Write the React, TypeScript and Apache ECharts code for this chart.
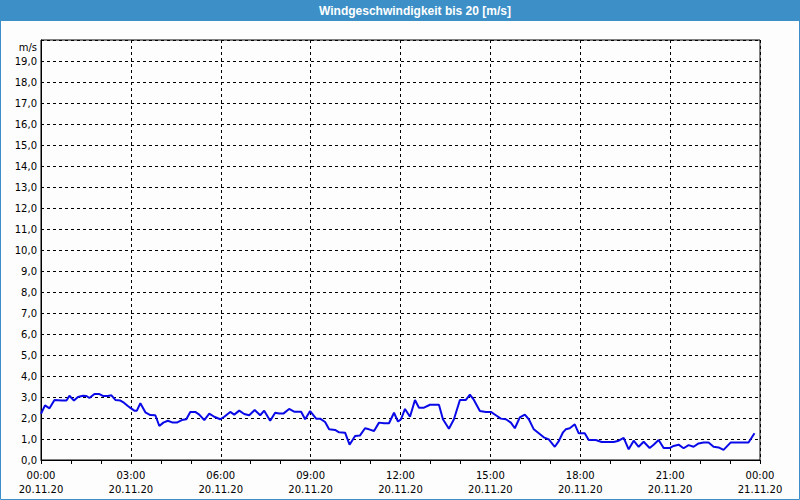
import React, { useEffect, useRef } from "react";
import * as echarts from "echarts";

const TITLE = "Windgeschwindigkeit bis 20 [m/s]";
const Y_UNIT = "m/s";
const DATES = ["20.11.20", "21.11.20"];

// minutes after 00:00 on 20.11.20
const minutes = [
  0, 8, 17, 27, 42, 51, 57, 66, 74, 84, 91, 97, 107, 117, 124, 134, 141, 149, 159, 166,
  174, 179, 187, 192, 199, 209, 219, 229, 237, 245, 254, 264, 272, 282, 291, 299, 309, 317, 327, 337,
  347, 359, 367, 379, 387, 397, 407, 417, 428, 439, 447, 459, 469, 477, 486, 497, 507, 521, 529, 539,
  551, 559, 569, 577, 589, 597, 609, 618, 629, 639, 649, 657, 667, 677, 687, 697, 707, 715, 721, 729,
  739, 749, 757, 767, 779, 797, 805, 817, 827, 839, 851, 859, 867, 879, 891, 901, 911, 921, 931, 941,
  949, 959, 969, 977, 987, 997, 1007, 1017, 1029, 1037, 1045, 1051, 1059, 1069, 1077, 1089, 1097, 1111, 1123, 1147,
  1157, 1167, 1177, 1187, 1197, 1207, 1219, 1227, 1237, 1247, 1259, 1267, 1277, 1287, 1297, 1307, 1317, 1327, 1337, 1347,
  1357, 1367, 1381, 1394, 1417, 1429,
];

const speeds = [
  2.2, 2.6, 2.46, 2.86, 2.83, 2.83, 3.06, 2.83, 3.0, 3.06, 3.05, 2.95, 3.14, 3.14, 3.05, 3.05, 3.08, 2.86, 2.83, 2.73,
  2.57, 2.48, 2.35, 2.35, 2.7, 2.27, 2.14, 2.13, 1.62, 1.78, 1.87, 1.78, 1.78, 1.9, 1.94, 2.29, 2.29, 2.16, 1.9, 2.21,
  2.06, 1.94, 2.06, 2.29, 2.16, 2.35, 2.19, 2.13, 2.38, 2.13, 2.35, 1.87, 2.25, 2.21, 2.22, 2.43, 2.3, 2.3, 1.94, 2.33,
  1.97, 1.97, 1.81, 1.46, 1.43, 1.32, 1.3, 0.73, 1.14, 1.17, 1.51, 1.46, 1.38, 1.78, 1.75, 1.75, 2.25, 1.83, 1.94, 2.43,
  2.06, 2.86, 2.49, 2.49, 2.63, 2.63, 1.94, 1.49, 1.94, 2.86, 2.86, 3.11, 2.86, 2.33, 2.29, 2.29, 2.13, 1.97, 1.94, 1.78,
  1.51, 2.03, 2.16, 1.94, 1.46, 1.27, 1.08, 0.98, 0.63, 0.9, 1.3, 1.46, 1.51, 1.7, 1.27, 1.27, 0.95, 0.95, 0.86, 0.86,
  0.92, 1.05, 0.51, 0.92, 0.63, 0.87, 0.57, 0.73, 0.95, 0.57, 0.57, 0.67, 0.73, 0.56, 0.71, 0.63, 0.79, 0.83, 0.83, 0.63,
  0.6, 0.48, 0.83, 0.83, 0.83, 1.27,
];

const Y_MIN = 0;
const Y_MAX = 20;
const Y_STEP = 1;
const X_MIN = 0;
const X_MAX = 1440;
const X_STEP = 180;

const pad = (n: number) => (n < 10 ? "0" + n : "" + n);

export default function App() {
  const ref = useRef<HTMLDivElement>(null);
  useEffect(() => {
    document.body.style.margin = "0";
    const chart = echarts.init(ref.current!, null, { renderer: "svg" });
    const labelFont = { fontFamily: "DejaVu Sans", fontSize: 10, color: "#000" };
    chart.setOption({
      animation: false,
      backgroundColor: "#fcfdfc",
      grid: {
        left: 41,
        right: 40,
        top: 40,
        bottom: 40,
        show: true,
        borderColor: "#000",
        borderWidth: 1,
        backgroundColor: "#fcfdfc",
      },
      xAxis: {
        type: "value",
        min: X_MIN,
        max: X_MAX,
        interval: X_STEP,
        axisLine: { show: true, lineStyle: { color: "#000", width: 1 } },
        axisTick: { show: true, length: 4, lineStyle: { color: "#000" } },
        minorTick: { show: true, splitNumber: 3, length: 4, lineStyle: { color: "#000" } },
        splitLine: { show: true, lineStyle: { color: "#000", type: [3, 3], width: 1 } },
        axisLabel: {
          ...labelFont,
          margin: 8,
          lineHeight: 14,
          showMinLabel: true,
          showMaxLabel: true,
          formatter: (v: number) => {
            const day = Math.floor(v / 1440);
            const m = v % 1440;
            return pad(Math.floor(m / 60)) + ":" + pad(m % 60) + "\n" + DATES[day];
          },
        },
      },
      yAxis: {
        type: "value",
        min: Y_MIN,
        max: Y_MAX,
        interval: Y_STEP,
        axisLine: { show: true, lineStyle: { color: "#000", width: 1 } },
        axisTick: { show: false },
        splitLine: { show: true, lineStyle: { color: "#000", type: [3, 3], width: 1 } },
        axisLabel: {
          ...labelFont,
          margin: 4,
          formatter: (v: number) => (v >= Y_MAX ? "" : v.toFixed(1).replace(".", ",")),
        },
      },
      series: [
        {
          type: "line",
          data: minutes.map((m, i) => [m, speeds[i]]),
          showSymbol: false,
          lineStyle: { color: "#0a0ae8", width: 2 },
          itemStyle: { color: "#0a0ae8" },
        },
      ],
      graphic: [
        {
          type: "rect",
          shape: { x: 0.5, y: 0.5, width: 799, height: 499 },
          style: { fill: "none", stroke: "#3d90c7", lineWidth: 1 },
          z: 100,
        },
        {
          type: "rect",
          shape: { x: 0, y: 0, width: 800, height: 21 },
          style: { fill: "#3d90c7" },
          z: 101,
        },
        {
          type: "text",
          x: 415,
          y: 11,
          style: {
            text: TITLE,
            fill: "#fff",
            fontFamily: "Liberation Sans",
            fontWeight: "bold",
            fontSize: 12,
            align: "center",
            verticalAlign: "middle",
          },
          z: 102,
        },
        {
          type: "text",
          x: 37,
          y: 47,
          style: {
            text: Y_UNIT,
            fill: "#000",
            fontFamily: "DejaVu Sans",
            fontSize: 10,
            align: "right",
            verticalAlign: "middle",
          },
          z: 102,
        },
      ],
    });
    return () => chart.dispose();
  }, []);
  return <div ref={ref} style={{ width: 800, height: 500 }} />;
}
